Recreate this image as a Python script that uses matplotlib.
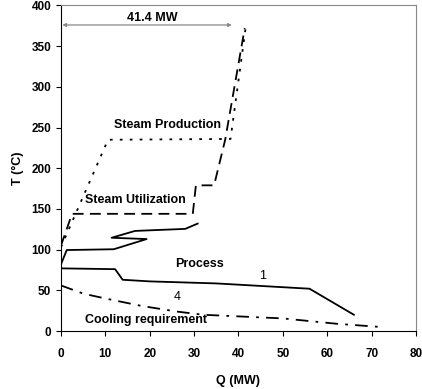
import matplotlib
matplotlib.use("Agg")
import matplotlib.pyplot as plt

plt.rcParams['font.family'] = ['Liberation Sans', 'DejaVu Sans']

# Process curve 1 (lower solid)
proc1_q = [0, 12.2, 13.9, 20, 35, 56, 66]
proc1_t = [77, 76, 63, 61, 58.5, 52, 20]

# Process curve (upper solid)
proc2_q = [0, 1.3, 11.9, 19.3, 11.4, 16.7, 28.0, 30.8]
proc2_t = [82, 99.5, 100.5, 113, 114.6, 123, 125.5, 132]

# Steam utilization (dashed)
util_q = [0, 2.5, 29.7, 30.4, 34.5, 37.0, 41.4]
util_t = [105, 144, 144, 179, 179, 235, 372]

# Steam production (dotted)
prod_q = [0, 10.6, 38.2, 41.6]
prod_t = [103, 235, 236, 372]

# Cooling requirement (dash-dot)
cool_q = [0, 5, 10, 18, 26, 32, 50, 62, 72]
cool_t = [56, 46, 40, 31, 24, 20, 15.5, 9, 5]

x_ticks = [0, 10, 20, 30, 40, 50, 60, 70, 80]
y_ticks = [0, 50, 100, 150, 200, 250, 300, 350, 400]

fig = plt.figure(figsize=(4.22, 3.89), dpi=100)
ax = fig.add_axes([0.1445, 0.149, 0.8413, 0.837])

lw = 1.3
ax.plot(proc1_q, proc1_t, color='black', lw=lw)
ax.plot(proc2_q, proc2_t, color='black', lw=lw)
ax.plot(util_q, util_t, color='black', lw=lw, dashes=(6, 3.5))
ax.plot(prod_q, prod_t, color='black', lw=lw, dashes=(1.5, 4))
ax.plot(cool_q, cool_t, color='black', lw=lw, dashes=(7, 4, 1.5, 4))

ax.set_xlim(0, 80)
ax.set_ylim(0, 400)
ax.set_xticks(x_ticks)
ax.set_yticks(y_ticks)
ax.tick_params(direction='out', length=3.5, width=0.8, labelsize=8.5)
ax.tick_params(axis='x', pad=8.5)
ax.tick_params(axis='y', pad=3.5)
for lab in ax.get_xticklabels() + ax.get_yticklabels():
    lab.set_fontweight('bold')
for s in ['top', 'right']:
    ax.spines[s].set_color('#888888')
for s in ['left', 'bottom']:
    ax.spines[s].set_color('black')

ax.set_xlabel('Q (MW)', fontsize=9, fontweight='bold', labelpad=11)
ax.set_ylabel('T (°C)', fontsize=9, fontweight='bold', labelpad=5)

tkw = dict(fontsize=9, fontweight='bold', ha='center', va='center')
ax.text(24, 253, 'Steam Production', **tkw)
ax.text(16.8, 161, 'Steam Utilization', **tkw)
ax.text(31.3, 82, 'Process', **tkw)
ax.text(19.1, 13.5, 'Cooling requirement', **tkw)
ax.text(20.6, 385, '41.4 MW', **tkw)
ax.text(45.5, 67.6, '1', fontsize=9, ha='center', va='center')
ax.text(26.1, 41.8, '4', fontsize=9, ha='center', va='center')

ax.annotate('', xy=(0.3, 376), xytext=(38.5, 376),
            arrowprops=dict(arrowstyle='<|-|>', color='#888888', lw=0.9,
                            mutation_scale=5, shrinkA=0, shrinkB=0))

fig.savefig('out.png', dpi=100)
